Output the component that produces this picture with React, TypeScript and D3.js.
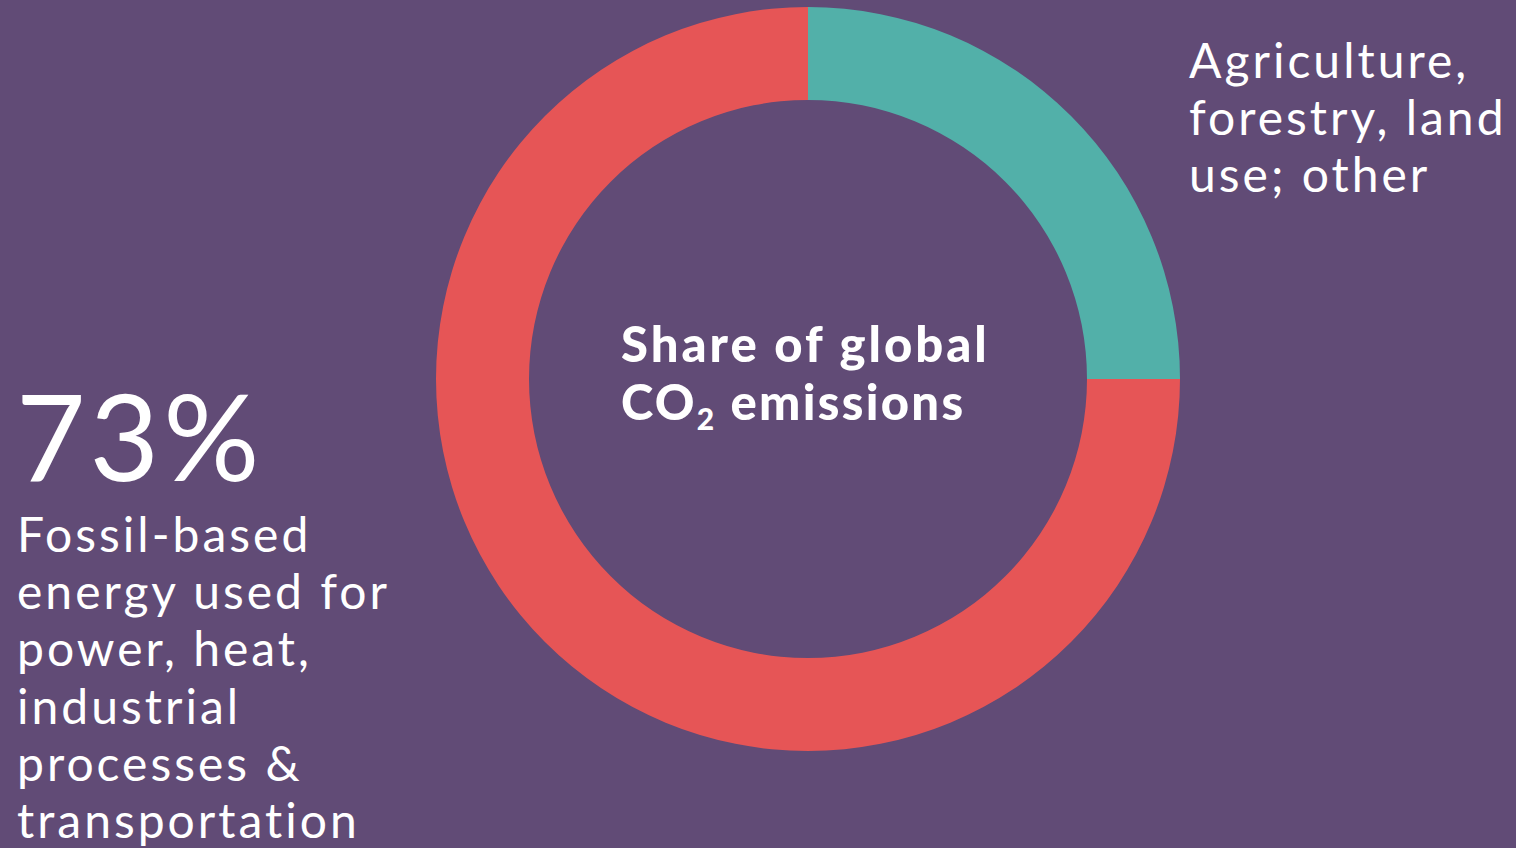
import React from "react";
import * as d3 from "d3";

const categories = ["Agriculture, forestry, land use; other", "Fossil-based energy"];
const shares = [25, 75];
const colors = ["#52B0A9", "#E65556"];
const bigLabel = "73%";
const leftLines = ["Fossil-based", "energy used for", "power, heat,", "industrial", "processes &", "transportation"];
const rightLines = ["Agriculture,", "forestry, land", "use; other"];

const W = 1516;
const H = 848;
const BG = "#614B76";
const FONT = "Lato, 'Noto Sans', sans-serif";

export default function App() {
  const cx = 808;
  const cy = 379;
  const outerR = 372;
  const innerR = 279;
  const data = categories.map((c, i) => ({ c, v: shares[i], color: colors[i] }));
  const pie = d3.pie<any>().value((d) => d.v).sort(null).startAngle(0).endAngle(2 * Math.PI);
  const arc = d3.arc<any>().innerRadius(innerR).outerRadius(outerR);
  const arcs = pie(data);

  return (
    <div style={{ position: "fixed", left: 0, top: 0, width: W, height: H, background: BG }}>
      <svg width={W} height={H} style={{ display: "block" }}>
        <rect x={0} y={0} width={W} height={H} fill={BG} />
        <g transform={`translate(${cx},${cy})`}>
          {arcs.map((a, i) => (
            <path key={i} d={arc(a) as string} fill={a.data.color} />
          ))}
        </g>
        <g fill="#FFFFFF" fontFamily={FONT}>
          <text x={621} y={362} fontSize={49} fontWeight={900} letterSpacing={3}>
            Share of global
          </text>
          <text x={621} y={420} fontSize={49} fontWeight={900} letterSpacing={2.3}>
            CO
            <tspan fontSize={30} dy={10}>2</tspan>
            <tspan dy={-10}> emissions</tspan>
          </text>
          <text x={16} y={481} fontSize={120} fontWeight={400} letterSpacing={4}>
            {bigLabel}
          </text>
          {leftLines.map((l, i) => (
            <text key={i} x={17} y={552 + i * 57.2} fontSize={48} fontWeight={400} letterSpacing={3}>
              {l}
            </text>
          ))}
          {rightLines.map((l, i) => (
            <text key={i} x={1189} y={78 + i * 57} fontSize={48} fontWeight={400} letterSpacing={3}>
              {l}
            </text>
          ))}
        </g>
      </svg>
    </div>
  );
}
